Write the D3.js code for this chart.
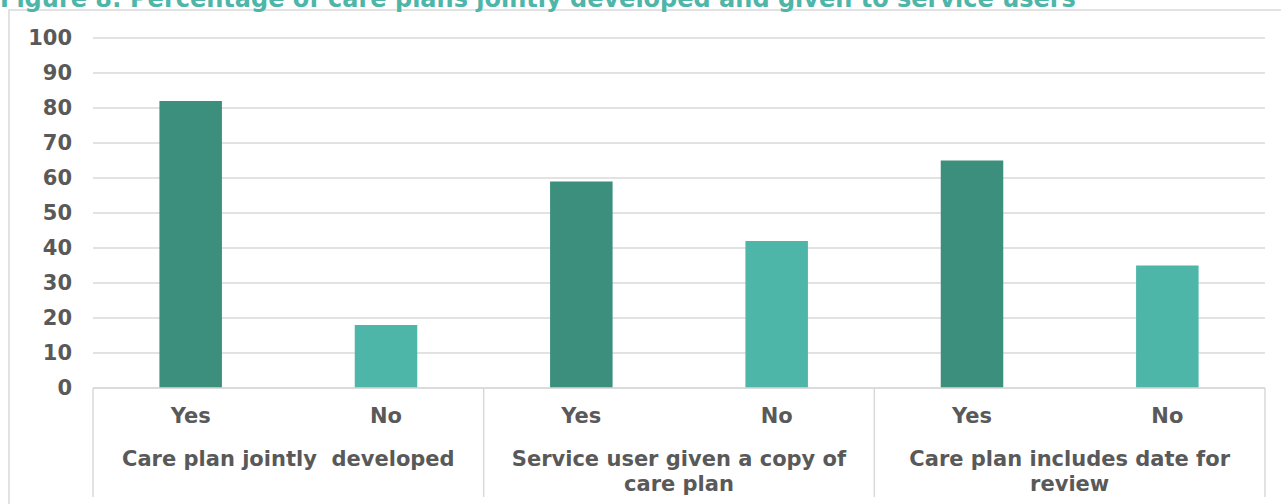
<!DOCTYPE html>
<html>
<head>
<meta charset="utf-8">
<script src="https://cdn.jsdelivr.net/npm/d3@7"></script>
<style>
  body { margin: 0; background: #fff; }
  svg { display: block; font-family: "DejaVu Sans", Verdana, sans-serif; font-weight: bold; }
</style>
</head>
<body>
<svg id="chart" width="1281" height="504"></svg>
<script>
// chart data
const groups = ["Care plan jointly  developed", "Service user given a copy of care plan", "Care plan includes date for review"];
const answers = ["Yes", "No"];
const values = [82, 18, 59, 42, 65, 35];
const yTicks = [0, 10, 20, 30, 40, 50, 60, 70, 80, 90, 100];
const title = "Figure 8: Percentage of care plans jointly developed and given to service users";

// dimensions
const margin = {top: 38, left: 93, right: 16, bottom: 116},
  width = 1281, height = 504,
  plotRight = width - margin.right,
  plotBottom = height - margin.bottom;

const textColor = "#595959",
  gridColor = "#d9d9d9",
  yesColor = "#3c8f7c",
  noColor = "#4db6a8",
  labelSize = "21px";

// flatten to one row per bar
const rows = [];
groups.forEach((g, gi) => answers.forEach((a, ai) => {
  rows.push({id: gi + "-" + ai, group: g, answer: a, value: values[gi * 2 + ai]});
}));

const svg = d3.select("#chart");

// outer frame
svg.append("rect")
  .attr("x", 9).attr("y", 10)
  .attr("width", width).attr("height", height)
  .attr("fill", "none").attr("stroke", gridColor).attr("stroke-width", 1.5);

// title, cut off at the top like the original
svg.append("text")
  .attr("x", 0).attr("y", 7)
  .attr("fill", noColor)
  .style("font-size", "24px")
  .text(title);

const x = d3.scaleBand()
  .domain(rows.map(d => d.id))
  .range([margin.left, plotRight])
  .paddingInner(0.68)
  .paddingOuter(0.34);

const xGroup = d3.scaleBand()
  .domain(groups)
  .range([margin.left, plotRight]);

const y = d3.scaleLinear().domain([0, 100]).range([plotBottom, margin.top]);

// gridlines
svg.append("g").selectAll("line")
  .data(yTicks)
  .join("line")
  .attr("x1", margin.left).attr("x2", plotRight)
  .attr("y1", d => y(d)).attr("y2", d => y(d))
  .attr("stroke", gridColor).attr("stroke-width", 1.5);

// y axis labels
const yAxis = svg.append("g")
  .attr("transform", `translate(${margin.left - 21},0)`)
  .call(d3.axisLeft(y).tickValues(yTicks).tickSize(0).tickPadding(0));
yAxis.select(".domain").remove();
yAxis.selectAll("text")
  .attr("fill", textColor)
  .style("font-size", labelSize)
  .style("font-family", "'DejaVu Sans', Verdana, sans-serif")
  .style("font-weight", "bold");

// bars
svg.append("g").selectAll("rect")
  .data(rows)
  .join("rect")
  .attr("x", d => x(d.id))
  .attr("y", d => y(d.value))
  .attr("width", x.bandwidth())
  .attr("height", d => y(0) - y(d.value))
  .attr("fill", d => d.answer === "Yes" ? yesColor : noColor);

// category axis line and group separators
svg.append("line")
  .attr("x1", margin.left).attr("x2", plotRight)
  .attr("y1", plotBottom).attr("y2", plotBottom)
  .attr("stroke", gridColor).attr("stroke-width", 1.5);

const seps = groups.map(g => xGroup(g)).concat([plotRight]);
svg.append("g").selectAll("line")
  .data(seps)
  .join("line")
  .attr("x1", d => d).attr("x2", d => d)
  .attr("y1", plotBottom).attr("y2", 497)
  .attr("stroke", gridColor).attr("stroke-width", 1.5);

// Yes / No labels
svg.append("g").selectAll("text")
  .data(rows)
  .join("text")
  .attr("x", d => x(d.id) + x.bandwidth() / 2)
  .attr("y", 423)
  .attr("text-anchor", "middle")
  .attr("fill", textColor)
  .style("font-size", labelSize)
  .text(d => d.answer);

// group labels, wrapped
const wrapWidth = 370;
const gLabels = svg.append("g").selectAll("text")
  .data(groups)
  .join("text")
  .attr("text-anchor", "middle")
  .attr("fill", textColor)
  .style("font-size", labelSize)
  .style("white-space", "pre");

gLabels.each(function(g) {
  const t = d3.select(this);
  const cx = xGroup(g) + xGroup.bandwidth() / 2;
  const words = g.split(" ");
  let line = [], lineNo = 0;
  let span = t.append("tspan").attr("x", cx).attr("y", 466);
  words.forEach(w => {
    line.push(w);
    span.text(line.join(" "));
    if (span.node().getComputedTextLength() > wrapWidth && line.length > 1) {
      line.pop();
      span.text(line.join(" "));
      line = [w];
      lineNo++;
      span = t.append("tspan").attr("x", cx).attr("y", 466 + lineNo * 25).text(w);
    }
  });
});
</script>
</body>
</html>
